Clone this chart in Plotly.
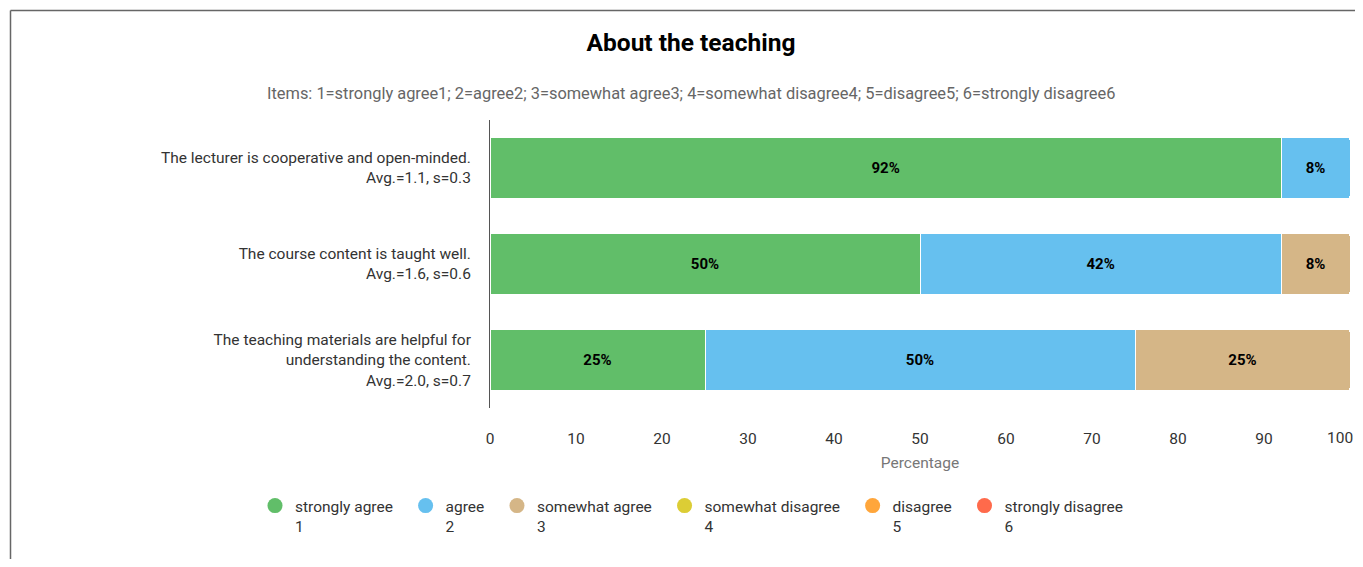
import plotly.graph_objects as go

categories = [
    "The lecturer is cooperative and open-minded.<br>Avg.=1.1, s=0.3",
    "The course content is taught well.<br>Avg.=1.6, s=0.6",
    "The teaching materials are helpful for<br>understanding the content.<br>Avg.=2.0, s=0.7",
]
series_names = ["strongly agree", "agree", "somewhat agree", "somewhat disagree", "disagree", "strongly disagree"]
series_codes = ["1", "2", "3", "4", "5", "6"]
strongly_agree = [92, 50, 25]
agree = [8, 42, 50]
somewhat_agree = [0, 8, 25]
somewhat_disagree = [0, 0, 0]
disagree = [0, 0, 0]
strongly_disagree = [0, 0, 0]
series_values = [strongly_agree, agree, somewhat_agree, somewhat_disagree, disagree, strongly_disagree]
colors = ["#61BE69", "#66C0EF", "#D5B687", "#DCCD35", "#FFA63B", "#FF6A4B"]
x_ticks = [0, 10, 20, 30, 40, 50, 60, 70, 80, 90, 100]

# page body has an 8px margin; figure pixel = screenshot pixel - 8
OFF = 8
W, H = 1363 - 2 * OFF, 567 - 2 * OFF
ML, MR, MT = 490 - OFF, W - (1350 - OFF), 120 - OFF
MB = H - (408 - OFF)
PW, PH = W - ML - MR, H - MT - MB

def px_to_paper_x(px):
    return (px - OFF - ML) / PW

def px_to_paper_y(py):
    return (H - MB - (py - OFF)) / PH

fig = go.Figure()
for name, vals, col in zip(series_names, series_values, colors):
    fig.add_trace(go.Bar(
        y=categories, x=vals, orientation="h", name=name,
        marker=dict(color=col, line=dict(color="white", width=1)),
        text=[f"{v}%" if v > 0 else "" for v in vals],
        textposition="inside", insidetextanchor="middle",
        textfont=dict(family="Roboto", size=15, color="black", weight="bold"),
        showlegend=False, hoverinfo="x+name",
    ))
pad = "\u00a0\u00a0"
for name, code, col in zip(series_names, series_codes, colors):
    fig.add_trace(go.Scatter(
        x=[None], y=[None], mode="markers", name=f"{name}{pad}<br>{code}",
        marker=dict(color=col, size=15, symbol="circle"),
        showlegend=True,
    ))

fig.update_layout(
    width=W, height=H,
    margin=dict(l=ML, r=MR, t=MT, b=MB, autoexpand=False),
    barmode="stack", bargap=0.36, barcornerradius=3,
    plot_bgcolor="white", paper_bgcolor="white",
    font=dict(family="Roboto", size=15.5, color="#333333"),
    title=dict(text="<b>About the teaching</b>", x=(691 - OFF) / W, xanchor="center",
               y=1 - (42 - OFF) / H, yanchor="middle", yref="container",
               font=dict(family="Roboto", size=24.5, color="black")),
    xaxis=dict(range=[0, 100], tickvals=x_ticks[:-1], ticktext=[str(t) for t in x_ticks[:-1]],
               showgrid=False, zeroline=False, showline=False,
               ticks="outside", ticklen=16, tickcolor="rgba(0,0,0,0)",
               tickfont=dict(size=15.5, color="#333333"),
               title=dict(text="Percentage", standoff=10, font=dict(size=15.5, color="#777777"))),
    yaxis=dict(autorange="reversed", showgrid=False, zeroline=False, showline=True,
               linecolor="#555555", linewidth=1, ticks="outside", ticklen=15,
               tickcolor="rgba(0,0,0,0)", tickfont=dict(size=15.5, color="#333333")),
    legend=dict(orientation="h", x=px_to_paper_x(255), xanchor="left",
                y=px_to_paper_y(489), yanchor="top",
                font=dict(size=15.5, color="#333333"),
                traceorder="normal", valign="top", itemclick=False),
    annotations=[
        dict(text="Items: 1=strongly agree1; 2=agree2; 3=somewhat agree3; 4=somewhat disagree4; 5=disagree5; 6=strongly disagree6",
             xref="paper", yref="paper", x=px_to_paper_x(691), y=px_to_paper_y(93),
             xanchor="center", yanchor="middle", showarrow=False,
             font=dict(family="Roboto", size=16.4, color="#666666")),
        # last tick label, nudged inward so it stays inside the frame
        dict(text=str(x_ticks[-1]), xref="x", yref="paper", x=x_ticks[-1], xshift=-10,
             y=px_to_paper_y(438), xanchor="center", yanchor="middle", showarrow=False,
             font=dict(size=15.5, color="#333333")),
    ],
    shapes=[
        dict(type="line", xref="paper", yref="paper", x0=px_to_paper_x(10.5), x1=px_to_paper_x(10.5),
             y0=px_to_paper_y(10.5), y1=px_to_paper_y(H + 30), line=dict(color="#666666", width=1.5)),
        dict(type="line", xref="paper", yref="paper", x0=px_to_paper_x(10.5), x1=px_to_paper_x(W + 30),
             y0=px_to_paper_y(10.5), y1=px_to_paper_y(10.5), line=dict(color="#666666", width=1.5)),
    ],
)

fig.write_html("out.html")
